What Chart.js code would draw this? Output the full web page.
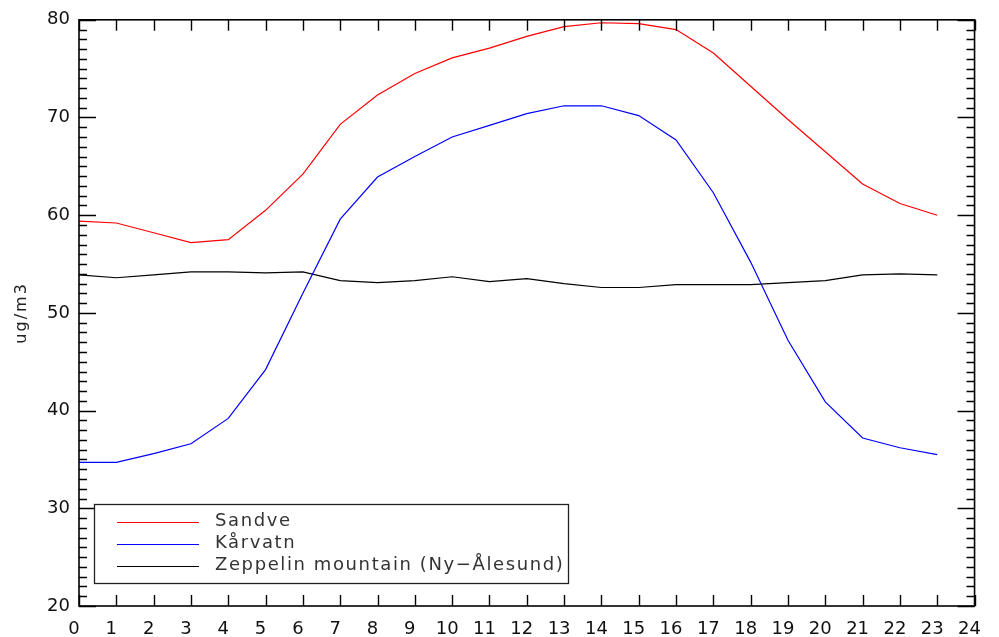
<!DOCTYPE html>
<html>
<head>
<meta charset="utf-8">
<script src="https://cdn.jsdelivr.net/npm/chart.js@4.4.1/dist/chart.umd.min.js"></script>
<style>
  html, body { margin: 0; padding: 0; background: #fff; }
  #wrap { width: 999px; height: 637px; position: relative; }
</style>
</head>
<body>
<div id="wrap"><canvas id="c" width="999" height="637"></canvas></div>
<script>
// Hour of day
const hours = [0,1,2,3,4,5,6,7,8,9,10,11,12,13,14,15,16,17,18,19,20,21,22,23];

// Mean diurnal concentrations (ug/m3)
const sandve = [59.4,59.2,58.2,57.2,57.5,60.5,64.2,69.3,72.3,74.5,76.1,77.1,78.3,79.3,79.7,79.6,79.0,76.6,73.2,69.8,66.5,63.2,61.2,60.0];
const karvatn = [34.7,34.7,35.6,36.6,39.2,44.2,52.0,59.6,63.9,66.0,68.0,69.2,70.4,71.2,71.2,70.2,67.7,62.3,55.2,47.2,40.9,37.2,36.2,35.5];
const zeppelin = [53.9,53.6,53.9,54.2,54.2,54.1,54.2,53.3,53.1,53.3,53.7,53.2,53.5,53.0,52.6,52.6,52.9,52.9,52.9,53.1,53.3,53.9,54.0,53.9];

const seriesNames = ['Sandve', 'Kårvatn', 'Zeppelin mountain (Ny\u2212Ålesund)'];
const seriesColors = ['#ff0000', '#0000ff', '#000000'];

const xTicks = hours.concat([24]);
const yMajor = [20,30,40,50,60,70,80];
const yTitle = 'ug/m3';

const FONT = "'DejaVu Sans', sans-serif";

function toPoints(vals) {
  return vals.map((v, i) => ({ x: hours[i], y: v }));
}

// Frame with inward ticks on all four sides, plus the rotated y title
const framePlugin = {
  id: 'frame',
  afterDraw(chart) {
    const { ctx, chartArea: a, scales } = chart;
    const xs = scales.x, ys = scales.y;
    ctx.save();
    ctx.strokeStyle = '#000';
    ctx.lineWidth = 1.6;
    ctx.strokeRect(a.left, a.top, a.right - a.left, a.bottom - a.top);
    ctx.lineWidth = 1.4;
    ctx.beginPath();
    xTicks.forEach(h => {
      const px = Math.round(xs.getPixelForValue(h)) + 0.5;
      ctx.moveTo(px, a.bottom); ctx.lineTo(px, a.bottom - 11);
      ctx.moveTo(px, a.top); ctx.lineTo(px, a.top + 11);
    });
    for (let v = ys.min; v <= ys.max; v += 1) {
      const py = Math.round(ys.getPixelForValue(v)) + 0.5;
      const len = yMajor.includes(v) ? 17 : 8;
      ctx.moveTo(a.left, py); ctx.lineTo(a.left + len, py);
      ctx.moveTo(a.right, py); ctx.lineTo(a.right - len, py);
    }
    ctx.stroke();

    // y axis title
    ctx.translate(22, (a.top + a.bottom) / 2);
    ctx.rotate(-Math.PI / 2);
    ctx.font = '16px ' + FONT;
    ctx.letterSpacing = '2px';
    ctx.fillStyle = '#222';
    ctx.textAlign = 'center';
    ctx.textBaseline = 'middle';
    ctx.fillText(yTitle, 0, 0);
    ctx.restore();
  }
};

// Boxed legend in lower-left of the plot
const legendBoxPlugin = {
  id: 'legendBox',
  afterDraw(chart) {
    const { ctx } = chart;
    const bx = 94, by = 504, bw = 474, bh = 79;
    ctx.save();
    ctx.fillStyle = '#fff';
    ctx.fillRect(bx, by, bw, bh);
    ctx.strokeStyle = '#222';
    ctx.lineWidth = 1.3;
    ctx.strokeRect(bx + 0.5, by + 0.5, bw, bh);
    ctx.font = '18px ' + FONT;
    ctx.textBaseline = 'middle';
    ctx.letterSpacing = '1.6px';
    chart.data.datasets.forEach((ds, i) => {
      const y = 521.5 + i * 22;
      ctx.strokeStyle = ds.borderColor;
      ctx.lineWidth = 1;
      ctx.beginPath();
      ctx.moveTo(117, Math.round(y) + 0.5);
      ctx.lineTo(199, Math.round(y) + 0.5);
      ctx.stroke();
      ctx.fillStyle = '#333';
      ctx.fillText(ds.label, 215, y);
    });
    ctx.restore();
  }
};

new Chart(document.getElementById('c'), {
  type: 'line',
  data: {
    datasets: [sandve, karvatn, zeppelin].map((vals, i) => ({
      label: seriesNames[i],
      data: toPoints(vals),
      borderColor: seriesColors[i],
      backgroundColor: seriesColors[i],
      borderWidth: 1.2,
      pointRadius: 0,
      tension: 0,
      fill: false
    }))
  },
  options: {
    responsive: false,
    animation: false,
    layout: { padding: { top: 18, right: 13, left: 0, bottom: 0 } },
    plugins: {
      legend: { display: false },
      tooltip: { enabled: false }
    },
    scales: {
      x: {
        type: 'linear',
        min: 0, max: 24,
        afterFit(s) { s.height = 31; },
        grid: { display: false, drawTicks: false },
        border: { display: false },
        ticks: {
          stepSize: 1,
          autoSkip: false,
          maxRotation: 0,
          padding: 13,
          labelOffset: -5,
          color: '#111',
          font: { family: FONT, size: 18 }
        },
        afterBuildTicks(s) { s.ticks = xTicks.map(v => ({ value: v })); }
      },
      y: {
        type: 'linear',
        min: 20, max: 80,
        afterFit(s) { s.width = 79; },
        grid: { display: false, drawTicks: false },
        border: { display: false },
        ticks: {
          stepSize: 10,
          padding: 9,
          color: '#111',
          font: { family: FONT, size: 18 }
        },
        afterBuildTicks(s) { s.ticks = yMajor.map(v => ({ value: v })); }
      }
    }
  },
  plugins: [framePlugin, legendBoxPlugin]
});
</script>
</body>
</html>
